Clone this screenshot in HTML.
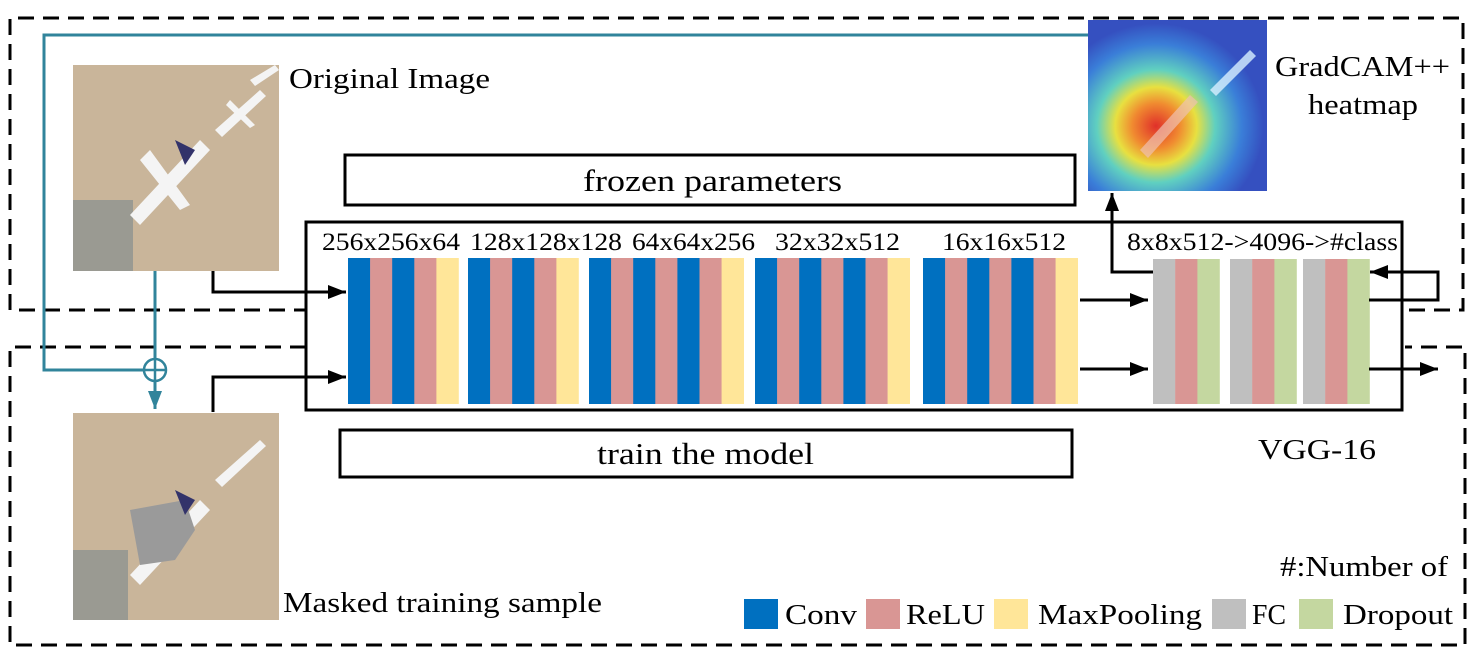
<!DOCTYPE html>
<html><head><meta charset="utf-8"><style>
html,body{margin:0;padding:0;background:#fff;}
svg{display:block;font-family:"Liberation Serif",serif;}
</style></head><body>
<svg id="s" width="1476" height="656" viewBox="0 0 1476 656" xmlns="http://www.w3.org/2000/svg">
<defs>
<marker id="ahb" markerWidth="20" markerHeight="14" refX="18" refY="7" orient="auto" markerUnits="userSpaceOnUse"><path d="M0,0 L18,7 L0,14 Z"/></marker>
<marker id="aht" markerWidth="20" markerHeight="14" refX="18" refY="7" orient="auto" markerUnits="userSpaceOnUse"><path d="M0,0 L18,7 L0,14 Z" fill="#31849b"/></marker>
<radialGradient id="heat" cx="0.38" cy="0.62" r="0.6">
<stop offset="0" stop-color="#e0302a"/><stop offset="0.22" stop-color="#f08a30"/><stop offset="0.38" stop-color="#e8e040"/><stop offset="0.55" stop-color="#60d0c0"/><stop offset="0.8" stop-color="#3a7ed8"/><stop offset="1" stop-color="#3550c0"/>
</radialGradient>
</defs>
<path d="M1409,310 L1463,310 L1463,18 L10,18 L10,310 L306,310" fill="none" stroke="#000" stroke-width="3" stroke-dasharray="16,9"/>
<path d="M306,347 L10,347 L10,645 L1465,645 L1465,347 L1405,347" fill="none" stroke="#000" stroke-width="3" stroke-dasharray="16,9"/>

<g>
<rect x="73" y="65" width="206" height="206" fill="#c9b59a"/>
<rect x="73" y="200" width="60" height="71" fill="#9a9a92"/>
<path d="M130,215 L200,140 L210,150 L140,225 Z M150,150 L190,205 L180,210 L140,160 Z" fill="#f4f4f4"/>
<path d="M175,140 L195,150 L185,165 Z" fill="#33336a"/>
<path d="M215,130 L260,90 L266,96 L222,137 Z M230,100 L255,125 L250,128 L226,105 Z" fill="#f4f4f4"/>
<path d="M250,80 L275,65 L279,70 L255,86 Z" fill="#f4f4f4"/>
</g>
<text x="289" y="88" font-size="29" textLength="201" lengthAdjust="spacingAndGlyphs">Original Image</text>
<g>
<rect x="73" y="413" width="206" height="207" fill="#c9b59a"/>
<rect x="73" y="550" width="55" height="70" fill="#9a9a92"/>
<path d="M130,575 L200,500 L210,510 L140,585 Z" fill="#f4f4f4"/>
<path d="M130,510 L185,500 L195,530 L175,560 L140,565 Z" fill="#9a9a9a"/>
<path d="M175,490 L195,500 L185,515 Z" fill="#33336a"/>
<path d="M215,480 L260,440 L266,446 L222,487 Z" fill="#f4f4f4"/>
</g>
<text x="283" y="612" font-size="29" textLength="319" lengthAdjust="spacingAndGlyphs">Masked training sample</text>
<g>
<rect x="1088" y="20" width="179" height="171" fill="url(#heat)"/>
<path d="M1140,150 L1190,95 L1198,102 L1148,158 Z" fill="#f0c0b0" opacity="0.7"/>
<path d="M1210,90 L1250,50 L1256,56 L1216,96 Z" fill="#d8f0ff" opacity="0.8"/>
</g>
<text x="1275" y="76" font-size="29" textLength="175" lengthAdjust="spacingAndGlyphs">GradCAM++</text>
<text x="1308" y="114" font-size="29" textLength="110" lengthAdjust="spacingAndGlyphs">heatmap</text>

<path d="M1088,35 L44,35 L44,370 L145,370" fill="none" stroke="#31849b" stroke-width="3"/>
<path d="M155,271 L155,409" fill="none" stroke="#31849b" stroke-width="3" marker-end="url(#aht)"/>
<g stroke="#31849b" stroke-width="2.5" fill="#fff">
<circle cx="155" cy="370" r="11"/><line x1="144" y1="370" x2="166" y2="370"/><line x1="155" y1="359" x2="155" y2="381"/>
</g>

<rect x="345" y="155" width="730" height="50" fill="#fff" stroke="#000" stroke-width="3"/>
<text x="583" y="191" font-size="31" textLength="259" lengthAdjust="spacingAndGlyphs">frozen parameters</text>
<rect x="306" y="222" width="1096" height="188" fill="none" stroke="#000" stroke-width="3"/>
<rect x="340" y="430" width="732" height="47" fill="#fff" stroke="#000" stroke-width="3"/>
<text x="597" y="464" font-size="31" textLength="217" lengthAdjust="spacingAndGlyphs">train the model</text>
<text x="1258" y="459" font-size="29" textLength="118" lengthAdjust="spacingAndGlyphs">VGG-16</text>

<g id="blocks"></g>

<g stroke="#000" stroke-width="3" fill="none">
<path d="M213,271 L213,292 L346,292" marker-end="url(#ahb)"/>
<path d="M213,412 L213,377 L346,377" marker-end="url(#ahb)"/>
<path d="M1080,300 L1148,300" marker-end="url(#ahb)"/>
<path d="M1080,369 L1148,369" marker-end="url(#ahb)"/>
<path d="M1369,369 L1438,369" marker-end="url(#ahb)"/>
<path d="M1369,300 L1438,300 L1438,272 L1370,272" marker-end="url(#ahb)"/>
<path d="M1153,272 L1112,272 L1112,193" marker-end="url(#ahb)"/>
</g>

<text x="1280" y="576" font-size="29" textLength="168" lengthAdjust="spacingAndGlyphs">#:Number of</text>
<g id="legend"></g>
</svg>
<script>
const C={Conv:'#0070c0',ReLU:'#d99694',Max:'#ffe699',FC:'#bfbfbf',Drop:'#c4d7a0'};
const groupLabels=['256x256x64','128x128x128','64x64x256','32x32x512','16x16x512'];
const groupStarts=[348,468,589,755,923];
const groupLayers=[['Conv','ReLU','Conv','ReLU','Max'],['Conv','ReLU','Conv','ReLU','Max'],['Conv','ReLU','Conv','ReLU','Conv','ReLU','Max'],['Conv','ReLU','Conv','ReLU','Conv','ReLU','Max'],['Conv','ReLU','Conv','ReLU','Conv','ReLU','Max']];
const labelX=[322,470,632,775,942];
const labelW=[138,152,123,125,124];
const fcStarts=[1153,1230,1303];
const fcLayers=['FC','ReLU','Drop'];
const legendNames=['Conv','ReLU','MaxPooling','FC','Dropout'];
const legendKeys=['Conv','ReLU','Max','FC','Drop'];
const legendX=[744,866,994,1212,1299];
const legendTX=[785,906,1038,1252,1343];
const legendTW=[72,79,164,34,110];
const ns='http://www.w3.org/2000/svg';
const g=document.getElementById('blocks');
function mk(t,a,p){const e=document.createElementNS(ns,t);for(const k in a)e.setAttribute(k,a[k]);p.appendChild(e);return e;}
groupStarts.forEach((x0,i)=>{
  groupLayers[i].forEach((l,j)=>{
    const r=mk('rect',{x:x0+j*22.1,y:258,width:22.4,height:146,fill:C[l]},g);
    
    
  });
  const t=mk('text',{x:labelX[i],y:250,'font-size':25,textLength:labelW[i],lengthAdjust:'spacingAndGlyphs'},g);
  t.textContent=groupLabels[i];
  
  
});
fcStarts.forEach(x0=>{
  fcLayers.forEach((l,j)=>{
    const r=mk('rect',{x:x0+j*22.2,y:259,width:22.4,height:145,fill:C[l]},g);
    
    
  });
});
const ft=mk('text',{x:1127,y:250,'font-size':25,textLength:271,lengthAdjust:'spacingAndGlyphs'},g);
ft.textContent='8x8x512->4096->#class';


const lg=document.getElementById('legend');
legendNames.forEach((n,i)=>{
  const r=mk('rect',{x:legendX[i],y:599,width:34,height:30,fill:C[legendKeys[i]]},lg);
  
  
  const t=mk('text',{x:legendTX[i],y:624,'font-size':29,textLength:legendTW[i],lengthAdjust:'spacingAndGlyphs'},lg);
  t.textContent=n;
  
  
});
</script>
</body></html>
